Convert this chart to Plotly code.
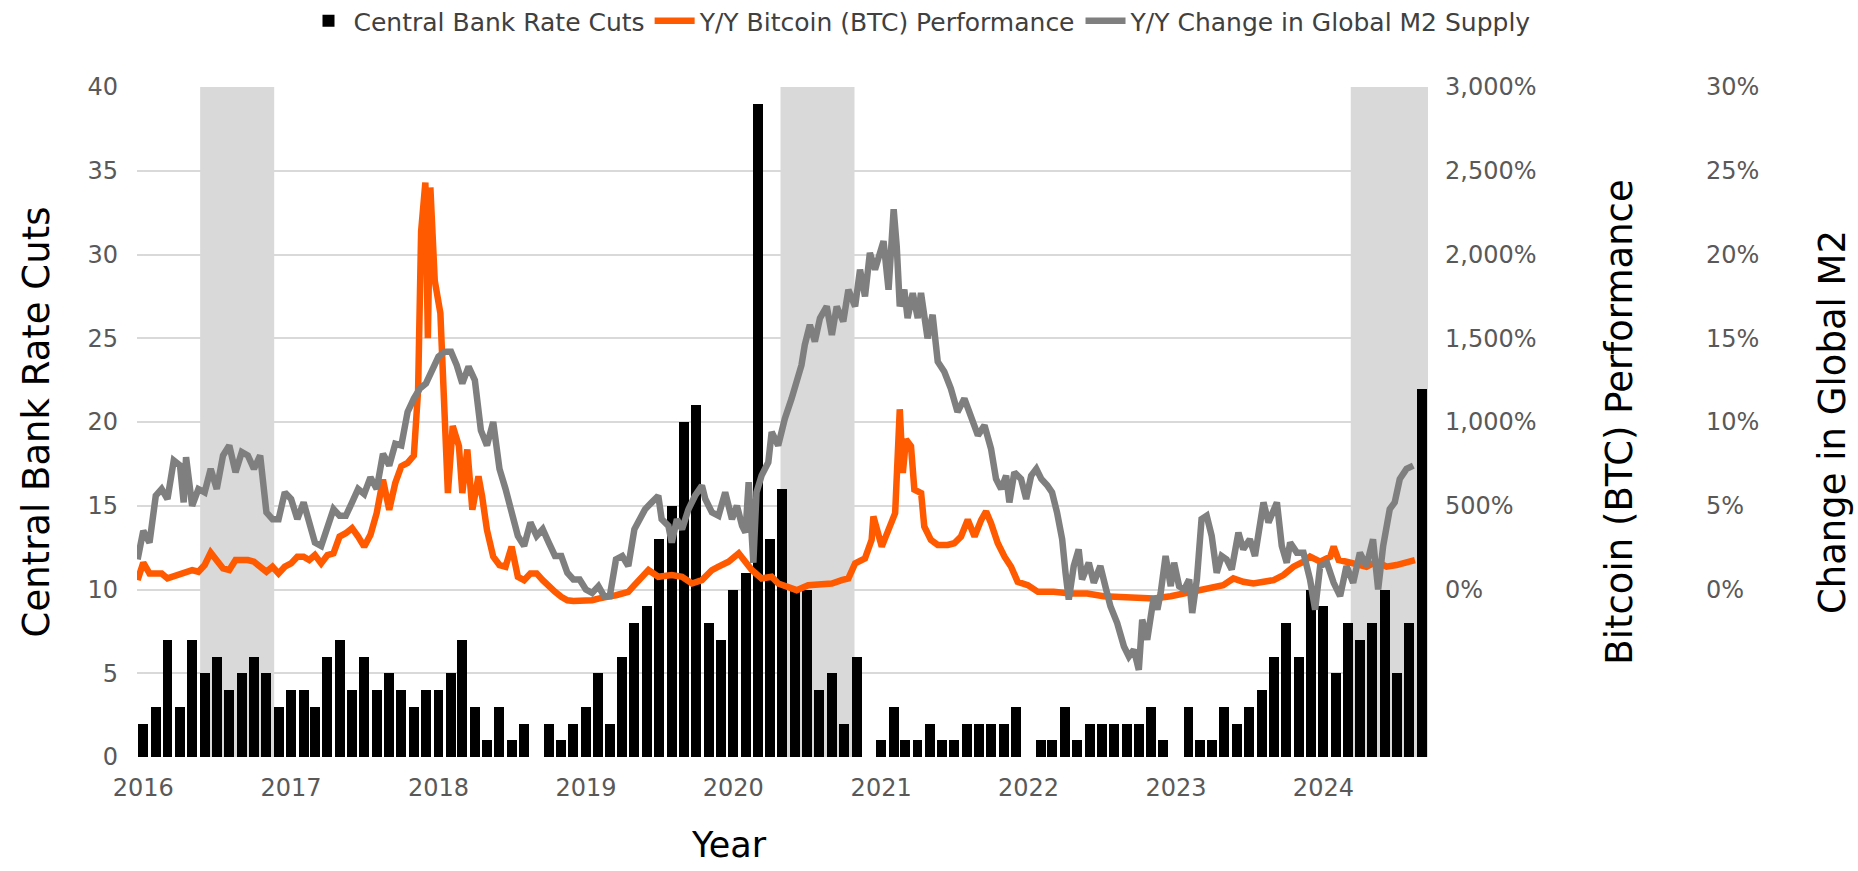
import math
import pandas as pd
import plotly.graph_objects as go

# ---------------- data ----------------
months = pd.date_range("2016-01-01", "2024-09-01", freq="MS")
rate_cuts = [2, 3, 7, 3, 7, 5, 6, 4, 5, 6, 5, 3,
             4, 4, 3, 6, 7, 4, 6, 4, 5, 4, 3, 4,
             4, 5, 7, 3, 1, 3, 1, 2, 0, 2, 1, 2,
             3, 5, 2, 6, 8, 9, 13, 15, 20, 21, 8, 7,
             10, 11, 39, 13, 16, 10, 10, 4, 5, 2, 6, 0,
             1, 3, 1, 1, 2, 1, 1, 2, 2, 2, 2, 3,
             0, 1, 1, 3, 1, 2, 2, 2, 2, 2, 3, 1,
             0, 3, 1, 1, 3, 2, 3, 4, 6, 8, 6, 10,
             9, 5, 8, 7, 8, 10, 5, 8, 22]

year_ticks = ["2016", "2017", "2018", "2019", "2020", "2021", "2022", "2023", "2024"]
left_ticks = [0, 5, 10, 15, 20, 25, 30, 35, 40]
btc_ticks = [0, 500, 1000, 1500, 2000, 2500, 3000]
m2_ticks = [0, 5, 10, 15, 20, 25, 30]

# BTC Y/Y performance (%), x given as months elapsed since Jan 2016
btc_month = [-0.45, 0, 0.5, 1, 1.5, 2, 2.5, 3, 3.5, 4, 4.5, 5, 5.5, 6, 6.5, 7, 7.5, 8, 8.5, 9,
             9.5, 10, 10.5, 11, 11.5, 12, 12.5, 13, 13.5, 14, 14.5, 15, 15.5, 16, 16.5, 17, 17.5,
             18, 18.5, 19, 19.5, 20, 20.5, 21, 21.5, 22, 22.35, 22.6, 22.95, 23.15, 23.35, 23.7,
             24.15, 24.35, 24.75, 25.15, 25.7, 26, 26.4, 26.8, 27.3, 27.6, 28, 28.5, 29, 29.5, 30,
             30.5, 31, 31.5, 32, 32.5, 33, 33.5, 34, 34.5, 35, 35.5, 36, 36.5, 37, 37.5, 38, 38.5,
             39, 39.5, 40,
             41.13, 41.94, 43.02, 43.84, 44.65, 45.46, 46.27, 46.81, 47.62, 48.43, 48.97, 49.51,
             50.32, 51.13, 51.67, 52.35, 53.16, 54.11, 55.19, 56.0, 56.81, 57.35, 57.89, 58.7,
             59.24, 59.38, 60.05, 60.59, 61.13, 61.54, 61.81, 62.08, 62.48, 62.75, 63.3, 63.56,
             64.1, 64.65, 65.46, 66.0, 66.54, 67.08, 67.62, 68.16, 68.56, 68.97, 69.51, 70.05,
             70.59, 71.13, 71.94, 72.75, 74.1, 75.46, 76.81, 78.16, 79.51, 80.86, 82.21,
             83.58, 84.66, 85.74, 86.82, 87.9, 88.71, 89.52, 90.34, 91.15, 91.96, 92.77, 93.58,
             94.39, 94.93, 95.74, 96.55, 96.82, 97.23, 97.9, 98.71, 99.52, 100.34, 101.15,
             101.96, 102.77, 103.44]
btc_yoy = [56, 160, 96, 100, 96, 66, 80, 96, 106, 116, 106, 146, 220, 166, 126, 116, 176, 176, 176, 166,
           136, 106, 136, 96, 136, 156, 196, 196, 176, 206, 156, 206, 216, 316, 336, 366, 316,
           256, 326, 456, 656, 476, 636, 736, 756, 800, 1190, 2140, 2430, 1500, 2400, 1845,
           1650, 1260, 576, 976, 856, 576, 836, 476, 676, 556, 356, 196, 146, 136, 256,
           76, 56, 96, 96, 56, 16, -14, -44, -64, -68, -68, -64, -64, -54, -44, -40, -34,
           -24, -14, 26,
           116, 76, 86, 76, 36, 56, 116, 136, 166, 216, 166, 116,
           66, 76, 36, 16, -4, 26, 36, 36, 56, 66, 156, 186,
           296, 436, 256, 356, 456, 1076, 696, 896, 856, 596, 576, 376,
           296, 266, 266, 276, 316, 416, 316, 416, 466, 396, 276, 196,
           136, 46, 26, -14, -14, -24, -24, -40, -44, -54, -54,
           -40, -24, -14, 6, 26, 66, 46, 36, 46, 56, 86, 136,
           166, 196, 166, 196, 256, 176, 166, 146, 136, 166, 136,
           146, 166, 176]

# Global M2 Y/Y change (%), x given as months elapsed since Jan 2016
m2_month = [-0.45, 0, 0.5, 1, 1.5, 2, 2.5, 3, 3.3, 3.5, 4, 4.5, 5, 5.5, 6, 6.5, 7, 7.5, 8, 8.5, 9,
            9.5, 10, 10.5, 11, 11.5, 12, 12.5, 13, 13.5, 14, 14.5, 15, 15.5, 16, 16.5, 17, 17.5,
            18, 18.5, 19, 19.5, 20, 20.5, 21, 21.5, 22, 22.5, 23, 23.5, 24, 24.5, 25, 25.5, 26,
            26.5, 27, 27.5, 28, 28.5, 29, 29.5, 30, 30.5, 31, 31.5, 32, 32.5, 33, 33.5, 34, 34.5,
            35, 35.5, 36, 36.5, 37, 37.5, 38, 38.5, 39, 39.5, 40,
            40.86, 41.4, 41.94, 42.21, 42.75, 43.02, 43.43, 43.84, 44.37, 44.91, 45.46, 45.73,
            46.27, 46.81, 47.35, 47.89, 48.29, 48.7, 48.97, 49.24, 49.64, 49.91, 50.32, 50.86,
            51.13, 51.67, 52.21, 52.75, 53.29, 53.56, 53.83, 54.24, 54.64, 55.05, 55.59, 56.0,
            56.4, 56.94, 57.35, 57.89, 58.29, 58.7, 59.1, 59.51, 60.19, 60.59, 61.0, 61.27,
            61.54, 61.94, 62.21, 62.62, 63.02, 63.29, 63.83, 64.24, 64.65, 65.18, 65.72, 66.26,
            66.81, 67.35, 67.89, 68.43, 68.97, 69.37, 69.78, 70.18, 70.45, 70.86, 71.4, 71.81,
            72.21, 72.62, 73.02, 73.56, 73.97, 74.37, 74.78, 75.05, 75.32, 75.73, 76.13, 76.4,
            76.94, 77.35, 77.89, 78.29, 78.7, 79.24, 79.78, 80.18, 80.59, 81.0, 81.27, 81.67,
            82.21, 82.5, 82.77, 83.17, 83.58, 83.85, 84.25, 84.66, 85.06, 85.33, 85.74, 86.14,
            86.55, 86.95, 87.36, 87.77, 88.17, 88.58, 89.12, 89.52, 90.06, 90.47, 90.74, 91.15,
            91.55, 91.82, 92.23, 92.63, 93.04, 93.31, 93.85, 94.39, 94.93, 95.34, 95.74, 96.28,
            96.82, 97.36, 97.9, 98.44, 98.98, 99.52, 100.06, 100.47, 100.87, 101.41, 101.82,
            102.23, 102.77, 103.31]
m2_yoy = [1.8, 3.5, 2.8, 5.6, 6.0, 5.4, 7.7, 7.4, 5.2, 7.9, 5.0, 6.0, 5.8, 7.2, 6.0, 8.0, 8.6, 7.0, 8.2, 8.0, 7.2,
          8.0, 4.6, 4.2, 4.2, 5.8, 5.4, 4.2, 5.2, 3.8, 2.8, 2.6, 3.6, 4.8, 4.4, 4.4, 5.2, 6.0,
          5.7, 6.7, 6.0, 8.1, 7.4, 8.7, 8.6, 10.6, 11.4, 12.0, 12.3, 13.2, 13.9, 14.2, 14.2, 13.4, 12.3,
          13.3, 12.5, 9.5, 8.6, 10.0, 7.2, 6.0, 4.6, 3.2, 2.6, 4.0, 3.2, 3.6, 2.8, 2.0, 2.0, 1.0,
          0.6, 0.6, 0.0, -0.2, 0.2, -0.4, -0.4, 1.8, 2.0, 1.4, 3.6,
          4.8, 5.2, 5.6, 4.2, 3.8, 2.8, 4.2, 3.6, 4.8, 5.6, 6.2, 5.4,
          4.6, 4.4, 5.8, 4.2, 5.0, 3.8, 3.4, 6.4, 1.6, 5.8, 6.8, 7.6,
          9.4, 8.6, 10.2, 11.4, 12.6, 13.4, 14.6, 15.8, 14.8, 16.2, 16.9, 15.2,
          16.9, 16.0, 17.9, 16.9, 19.1, 17.5, 20.1, 19.1, 20.8, 17.9, 22.7, 20.5,
          16.9, 17.9, 16.2, 17.7, 16.2, 17.7, 15.0, 16.4, 13.6, 13.0, 12.0, 10.6,
          11.4, 10.4, 9.2, 9.8, 8.4, 6.6, 6.0, 6.8, 5.2, 7.0, 6.6, 5.4,
          6.8, 7.2, 6.6, 6.2, 5.8, 4.6, 3.0, 1.0, -0.6, 1.4, 2.4, 0.6,
          1.6, 0.4, 1.4, 0.2, -1.0, -2.0, -3.4, -4.0, -3.6, -4.8, -1.8, -3.0,
          -0.4, -1.2, -0.2, 2.0, 0.2, 1.6, 0.2, 0.0, 0.6, -1.4, 0.6, 4.2,
          4.4, 3.2, 1.0, 2.0, 1.8, 1.2, 3.4, 2.4, 3.0, 2.0, 3.4, 5.2,
          4.0, 4.6, 5.2, 2.6, 1.6, 2.8, 2.2, 2.2, 0.6, -1.2, 1.4, 1.6,
          0.4, -0.4, 1.4, 0.4, 2.2, 1.4, 3.0, 0.0, 2.6, 4.8, 5.2,
          6.6, 7.2, 7.4]

# shaded periods (months elapsed since Jan 2016)
shade_start = [4.64, 51.86, 98.25]
shade_end = [10.64, 57.84, 104.5]

# ---------------- helpers ----------------
BASE = pd.Timestamp("2016-01-01")


def month_to_date(m):
    whole = math.floor(m)
    frac = m - whole
    a = BASE + pd.DateOffset(months=whole)
    b = BASE + pd.DateOffset(months=whole + 1)
    return a + (b - a) * frac


btc_dates = [month_to_date(m) for m in btc_month]
m2_dates = [month_to_date(m) for m in m2_month]
tick_dates = [pd.Timestamp(f"{y}-01-01") for y in year_ticks]

FONT = "DejaVu Sans"
TICK_COLOR = "#595959"
GRID = "#D9D9D9"
TITLE_SIZE = 37

fig = go.Figure()
fig.add_trace(go.Bar(
    x=months, y=rate_cuts, name="Central Bank Rate Cuts",
    marker=dict(color="black", line=dict(width=0)),
    width=24.7 * 86400000, yaxis="y"))
fig.add_trace(go.Scatter(
    x=btc_dates, y=btc_yoy, name="Y/Y Bitcoin (BTC) Performance", mode="lines",
    line=dict(color="#FF5A00", width=6.5), yaxis="y2"))
fig.add_trace(go.Scatter(
    x=m2_dates, y=m2_yoy, name="Y/Y Change in Global M2 Supply", mode="lines",
    line=dict(color="#7F7F7F", width=6.5), yaxis="y3"))

for s, e in zip(shade_start, shade_end):
    fig.add_shape(type="rect", xref="x", yref="y", x0=month_to_date(s), x1=month_to_date(e),
                  y0=0, y1=40, fillcolor="#D9D9D9", line=dict(width=0), layer="below")

L, R, T, B = 137, 12, 87, 114
W, H = 1858, 871
paper_w = W - L - R
paper_h = H - T - B
x_dom = (1428 - L) / paper_w
y3_pos = (1689 - L) / paper_w

# x-axis title placed as text below the year labels
fig.add_annotation(text="Year", xref="paper", yref="paper",
                   x=(729 - L) / paper_w, y=-(845 - (H - B)) / paper_h,
                   xanchor="center", yanchor="middle", showarrow=False,
                   font=dict(family=FONT, size=35, color="black"))

fig.update_layout(
    template="none",
    width=W, height=H,
    margin=dict(l=L, r=R, t=T, b=B, autoexpand=False),
    paper_bgcolor="white", plot_bgcolor="white",
    font=dict(family=FONT, size=24, color=TICK_COLOR),
    bargap=0,
    showlegend=True,
    legend=dict(orientation="h", x=(920 - L) / paper_w, xanchor="center",
                y=1 + (87 - 21) / paper_h, yanchor="middle",
                font=dict(family=FONT, size=25, color="#404040"),
                bgcolor="rgba(0,0,0,0)", itemwidth=40, tracegroupgap=0),
    xaxis=dict(type="date", domain=[0, x_dom],
               range=[month_to_date(-0.5), month_to_date(104.5)],
               tickmode="array", tickvals=tick_dates, ticktext=year_ticks,
               showgrid=False, zeroline=False, showline=False, ticks="",
               ticklabelstandoff=14,
               tickfont=dict(size=24, color=TICK_COLOR)),
    yaxis=dict(range=[0, 40], tickmode="array", tickvals=left_ticks,
               showgrid=True, gridcolor=GRID, gridwidth=2, zeroline=False, showline=False,
               ticks="", ticklabelstandoff=18,
               tickfont=dict(size=24, color=TICK_COLOR),
               title=dict(text="Central Bank Rate Cuts",
                          font=dict(size=TITLE_SIZE, color="black"), standoff=26)),
    yaxis2=dict(range=[-1000, 3000], overlaying="y", side="right", anchor="x",
                tickmode="array", tickvals=btc_ticks,
                ticktext=[f"{v:,}%" for v in btc_ticks],
                showgrid=False, zeroline=False, showline=False, ticks="",
                ticklabelstandoff=16,
                tickfont=dict(size=24, color=TICK_COLOR),
                title=dict(text="Bitcoin (BTC) Performance",
                           font=dict(size=TITLE_SIZE, color="black"), standoff=70)),
    yaxis3=dict(range=[-10, 30], overlaying="y", side="right", anchor="free", position=y3_pos,
                tickmode="array", tickvals=m2_ticks,
                ticktext=[f"{v}%" for v in m2_ticks],
                showgrid=False, zeroline=False, showline=False, ticks="",
                ticklabelstandoff=16,
                tickfont=dict(size=24, color=TICK_COLOR),
                title=dict(text="Change in Global M2",
                           font=dict(size=TITLE_SIZE, color="black"), standoff=60)),
)

fig.write_html("out.html", include_plotlyjs=True, full_html=True,
               config={"displayModeBar": False},
               post_script="document.body.style.margin='0';document.body.style.overflow='hidden';")
